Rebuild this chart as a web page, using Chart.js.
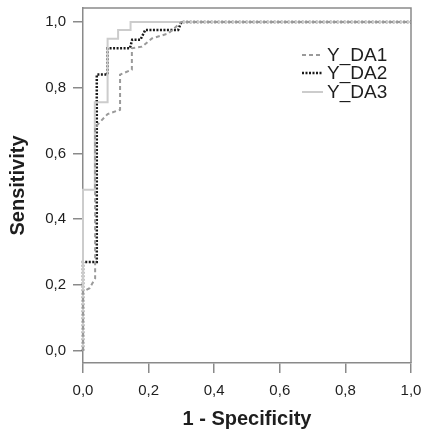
<!DOCTYPE html>
<html>
<head>
<meta charset="utf-8">
<script src="https://cdn.jsdelivr.net/npm/chart.js@4"></script>
<style>
  html, body { margin: 0; padding: 0; background: #fff; }
  canvas { display: block; }
</style>
</head>
<body>
<canvas id="roc" width="424" height="431"></canvas>
<script>
// ROC curves (1 - specificity, sensitivity)
const seriesNames = ['Y_DA1', 'Y_DA2', 'Y_DA3'];

const da1X = [0, 0, 0.02, 0.037, 0.037, 0.075, 0.113, 0.113, 0.149, 0.149, 0.18, 0.21, 0.26, 0.3, 1];
const da1Y = [0, 0.18, 0.19, 0.22, 0.68, 0.72, 0.733, 0.84, 0.855, 0.92, 0.925, 0.95, 0.965, 1, 1];

const da2X = [0, 0, 0.042, 0.042, 0.075, 0.075, 0.143, 0.15, 0.175, 0.19, 0.29, 0.3, 1];
const da2Y = [0, 0.27, 0.27, 0.84, 0.84, 0.92, 0.92, 0.946, 0.946, 0.976, 0.976, 1, 1];

const da3X = [0, 0, 0.036, 0.036, 0.075, 0.075, 0.107, 0.107, 0.145, 0.145, 1];
const da3Y = [0, 0.49, 0.49, 0.756, 0.756, 0.949, 0.949, 0.976, 0.976, 1, 1];

const xTicks = [0, 0.2, 0.4, 0.6, 0.8, 1.0];
const yTicks = [0, 0.2, 0.4, 0.6, 0.8, 1.0];

const toPoints = (xs, ys) => xs.map((x, i) => ({ x: x, y: ys[i] }));
const fmt = v => Number(v).toFixed(1).replace('.', ',');

const axisColor = '#8a8a8a';
const textColor = '#1e1e1e';
const fontFamily = '"Liberation Sans", Arial, sans-serif';

// legend drawn inside the plot, upper right
const innerLegend = {
    id: 'innerLegend',
    afterDraw(chart) {
        const ctx = chart.ctx;
        const rows = [55, 73, 92];
        ctx.save();
        chart.data.datasets.forEach((ds, i) => {
            const y = rows[i];
            ctx.beginPath();
            ctx.strokeStyle = ds.borderColor;
            ctx.lineWidth = ds.borderWidth;
            ctx.setLineDash(ds.borderDash || []);
            ctx.moveTo(302, y);
            ctx.lineTo(323, y);
            ctx.stroke();
            ctx.setLineDash([]);
            ctx.fillStyle = textColor;
            ctx.font = '19px ' + fontFamily;
            ctx.textBaseline = 'middle';
            ctx.textAlign = 'left';
            ctx.fillText(ds.label, 327, y + 1);
        });
        ctx.restore();
    }
};

// top and right edges of the frame
const frame = {
    id: 'frame',
    beforeDatasetsDraw(chart) {
        const { ctx, chartArea: a } = chart;
        ctx.save();
        ctx.strokeStyle = axisColor;
        ctx.lineWidth = 1.5;
        ctx.beginPath();
        ctx.moveTo(a.left, a.top);
        ctx.lineTo(a.right, a.top);
        ctx.lineTo(a.right, a.bottom);
        ctx.stroke();
        ctx.restore();
    }
};

new Chart(document.getElementById('roc').getContext('2d'), {
    type: 'line',
    data: {
        datasets: [
            {
                label: seriesNames[0],
                data: toPoints(da1X, da1Y),
                borderColor: '#9a9a9a',
                borderWidth: 2,
                borderDash: [4, 3],
                order: 0
            },
            {
                label: seriesNames[1],
                data: toPoints(da2X, da2Y),
                borderColor: '#1a1a1a',
                borderWidth: 2.5,
                borderDash: [2, 1.5],
                order: 2
            },
            {
                label: seriesNames[2],
                data: toPoints(da3X, da3Y),
                borderColor: '#cccccc',
                borderWidth: 2,
                order: 1
            }
        ]
    },
    options: {
        responsive: false,
        maintainAspectRatio: false,
        animation: false,
        layout: { padding: { top: 8, right: 13, left: 0, bottom: 0 } },
        elements: {
            point: { radius: 0 },
            line: { tension: 0, fill: false }
        },
        datasets: { line: { clip: false } },
        plugins: {
            legend: { display: false },
            tooltip: { enabled: false }
        },
        scales: {
            x: {
                type: 'linear',
                min: 0,
                max: 1,
                afterBuildTicks: s => { s.ticks = xTicks.map(v => ({ value: v })); },
                afterFit: s => { s.height = 68; s.paddingLeft = 0; s.paddingRight = 0; },
                grid: { drawOnChartArea: false, drawTicks: true, tickLength: 10, color: axisColor, lineWidth: 1.5 },
                border: { display: true, color: axisColor, width: 1.5 },
                ticks: {
                    color: textColor,
                    padding: 9,
                    maxRotation: 0,
                    font: { family: fontFamily, size: 15 },
                    callback: v => fmt(v)
                },
                title: {
                    display: true,
                    text: '1 - Specificity',
                    color: textColor,
                    padding: { top: 0, bottom: 0 },
                    font: { family: fontFamily, size: 20, weight: 'bold' }
                }
            },
            y: {
                type: 'linear',
                min: -0.0374,
                max: 1.0426,
                afterBuildTicks: s => { s.ticks = yTicks.map(v => ({ value: v })); },
                afterFit: s => { s.width = 83; s.paddingTop = 0; s.paddingBottom = 0; },
                grid: { drawOnChartArea: false, drawTicks: true, tickLength: 10, color: axisColor, lineWidth: 1.5 },
                border: { display: true, color: axisColor, width: 1.5 },
                ticks: {
                    color: textColor,
                    padding: 7,
                    font: { family: fontFamily, size: 15 },
                    callback: v => fmt(v)
                },
                title: {
                    display: true,
                    text: 'Sensitivity',
                    color: textColor,
                    padding: { top: 6, bottom: 0 },
                    font: { family: fontFamily, size: 20, weight: 'bold' }
                }
            }
        }
    },
    plugins: [frame, innerLegend]
});
</script>
</body>
</html>
